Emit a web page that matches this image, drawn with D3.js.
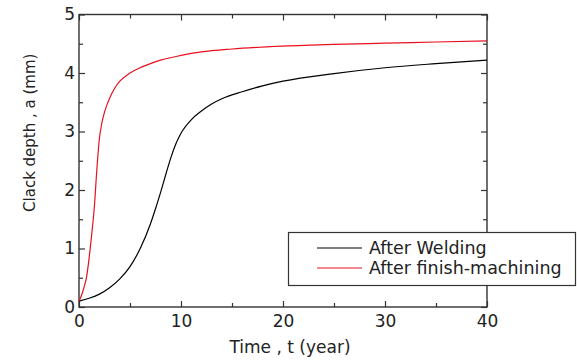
<!DOCTYPE html>
<html>
<head>
<meta charset="utf-8">
<script src="https://cdn.jsdelivr.net/npm/d3@7"></script>
<style>
  html, body { margin: 0; padding: 0; background: #fff; }
  svg { display: block; font-family: "DejaVu Sans", sans-serif; }
</style>
</head>
<body>
<svg id="chart" width="577" height="362"></svg>
<script>
// ---- data ----
const weldT = [0, 1, 2, 3, 4, 5, 6, 7, 7.5, 8, 8.5, 9, 9.5, 10, 11, 12, 13, 14, 16, 18, 20, 25, 30, 35, 40];
const weldA = [0.1, 0.15, 0.22, 0.33, 0.48, 0.69, 1.0, 1.42, 1.68, 1.96, 2.26, 2.55, 2.79, 2.97, 3.2, 3.35, 3.47, 3.56, 3.68, 3.78, 3.86, 3.99, 4.09, 4.16, 4.22];
const machT = [0, 0.25, 0.5, 0.75, 1, 1.25, 1.5, 1.75, 2, 2.25, 2.5, 2.75, 3, 3.5, 4, 5, 6, 7, 8, 10, 12, 15, 20, 25, 30, 35, 40];
const machA = [0.1, 0.2, 0.34, 0.52, 0.85, 1.25, 1.7, 2.35, 2.88, 3.15, 3.33, 3.46, 3.57, 3.74, 3.86, 4.0, 4.09, 4.16, 4.22, 4.30, 4.36, 4.41, 4.46, 4.49, 4.51, 4.53, 4.55];
const xTicks = [0, 10, 20, 30, 40];
const yTicks = [0, 1, 2, 3, 4, 5];
const xMinor = [5, 15, 25, 35];
const yMinor = [0.5, 1.5, 2.5, 3.5, 4.5];
const seriesNames = ["After Welding", "After finish-machining"];
const seriesColors = ["#000000", "#e8101e"];

// ---- layout ----
const svg = d3.select("#chart");
const m = { left: 79, top: 14.5, right: 90, bottom: 55 };
const W = 577, H = 362;
const x = d3.scaleLinear().domain([0, 40]).range([m.left, W - m.right]);
const y = d3.scaleLinear().domain([0, 5]).range([H - m.bottom, m.top]);

svg.append("rect").attr("width", W).attr("height", H).attr("fill", "#fff");

const axisColor = "#333";
const major = 6, minor = 4;

// bottom axis
svg.append("g").attr("transform", `translate(0,${y(0)})`)
  .call(d3.axisBottom(x).tickValues(xTicks).tickSize(-major).tickPadding(8).tickFormat(d3.format("d")));
svg.append("g").attr("transform", `translate(0,${y(0)})`)
  .call(d3.axisBottom(x).tickValues(xMinor).tickSize(-minor).tickFormat(""));
// top axis
svg.append("g").attr("transform", `translate(0,${y(5)})`)
  .call(d3.axisTop(x).tickValues(xTicks).tickSize(-major).tickFormat(""));
svg.append("g").attr("transform", `translate(0,${y(5)})`)
  .call(d3.axisTop(x).tickValues(xMinor).tickSize(-minor).tickFormat(""));
// left axis
svg.append("g").attr("transform", `translate(${x(0)},0)`)
  .call(d3.axisLeft(y).tickValues(yTicks).tickSize(-major).tickPadding(4).tickFormat(d3.format("d")));
svg.append("g").attr("transform", `translate(${x(0)},0)`)
  .call(d3.axisLeft(y).tickValues(yMinor).tickSize(-minor).tickFormat(""));
// right axis
svg.append("g").attr("transform", `translate(${x(40)},0)`)
  .call(d3.axisRight(y).tickValues(yTicks).tickSize(-major).tickFormat(""));
svg.append("g").attr("transform", `translate(${x(40)},0)`)
  .call(d3.axisRight(y).tickValues(yMinor).tickSize(-minor).tickFormat(""));

svg.selectAll(".domain").remove();
svg.selectAll(".tick line").attr("stroke", axisColor).attr("stroke-width", 1.2);
svg.selectAll(".tick text").attr("fill", "#222").style("font-size", "17px").style("font-family", "DejaVu Sans, sans-serif");

// frame
svg.append("rect")
  .attr("x", x(0)).attr("y", y(5))
  .attr("width", x(40) - x(0)).attr("height", y(0) - y(5))
  .attr("fill", "none").attr("stroke", axisColor).attr("stroke-width", 1.4);

// lines
const line = d3.line().x(d => x(d[0])).y(d => y(d[1])).curve(d3.curveMonotoneX);
const weld = weldT.map((t, i) => [t, weldA[i]]);
const mach = machT.map((t, i) => [t, machA[i]]);
svg.append("path").datum(weld).attr("d", line).attr("fill", "none")
  .attr("stroke", seriesColors[0]).attr("stroke-width", 1.2);
svg.append("path").datum(mach).attr("d", line).attr("fill", "none")
  .attr("stroke", seriesColors[1]).attr("stroke-width", 1.2);

// axis titles
svg.append("text").attr("x", (x(0) + x(40)) / 2 + 7).attr("y", 353)
  .attr("text-anchor", "middle").style("font-size", "17px").attr("fill", "#222")
  .text("Time , t (year)");
svg.append("text").attr("transform", `translate(35,${(y(0) + y(5)) / 2 - 28}) rotate(-90)`)
  .attr("text-anchor", "middle").style("font-size", "15px").attr("fill", "#222")
  .text("Clack depth , a (mm)");

// legend
const lg = svg.append("g");
lg.append("rect").attr("x", 288.5).attr("y", 232.5).attr("width", 287).attr("height", 53)
  .attr("fill", "#fff").attr("stroke", axisColor).attr("stroke-width", 1.2);
seriesNames.forEach((name, i) => {
  const yy = 248 + i * 20;
  lg.append("line").attr("x1", 317).attr("x2", 362).attr("y1", yy).attr("y2", yy)
    .attr("stroke", seriesColors[i]).attr("stroke-width", 1.2);
  lg.append("text").attr("x", 369).attr("y", yy + 6).style("font-size", "17.5px").attr("fill", "#222")
    .text(name);
});
</script>
</body>
</html>
